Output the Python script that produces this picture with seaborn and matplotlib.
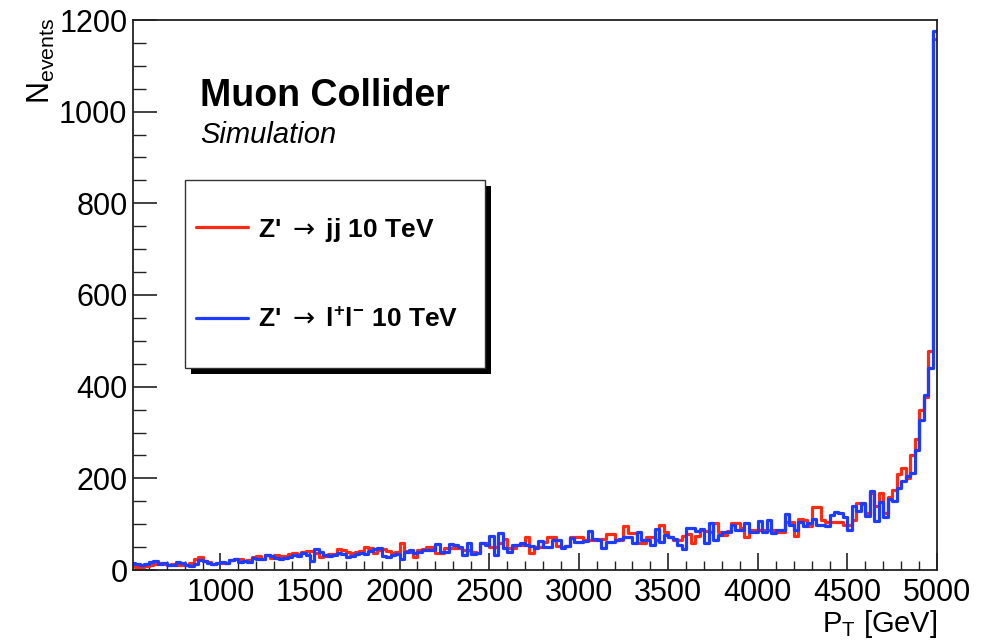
import numpy as np
import pandas as pd
import matplotlib
matplotlib.use("Agg")
import matplotlib.pyplot as plt
import seaborn as sns
from matplotlib.lines import Line2D
from matplotlib.patches import Rectangle
from matplotlib.ticker import MultipleLocator
from matplotlib.font_manager import FontProperties

# ---------------- data (25 GeV bins starting at 500 GeV) ----------------
bin_start = 500
bin_width = 25

jj_counts = [
    8, 7, 7, 9, 10, 14, 15, 13, 12, 14, 11, 12, 10, 16, 25, 29, 20, 18, 14, 15,
    15, 16, 22, 25, 24, 20, 22, 28, 30, 25, 32, 27, 33, 30, 31, 35, 38, 34, 40, 41,
    41, 38, 28, 30, 36, 34, 45, 43, 40, 38, 40, 42, 50, 48, 38, 44, 46, 42, 38, 40,
    60, 42, 40, 28, 44, 45, 50, 51, 38, 38, 48, 47, 47, 47, 44, 44, 40, 37, 60, 58,
    51, 51, 60, 67, 47, 47, 55, 54, 71, 38, 51, 51, 61, 71, 71, 52, 51, 52, 73, 73,
    73, 66, 66, 66, 67, 67, 79, 79, 66, 66, 95, 80, 80, 60, 58, 72, 72, 66, 98, 84,
    72, 66, 66, 75, 78, 58, 74, 88, 85, 84, 102, 84, 76, 85, 102, 102, 91, 71, 87, 87,
    87, 87, 87, 87, 84, 84, 105, 105, 74, 112, 110, 95, 138, 138, 109, 105, 105, 105, 105, 98,
    98, 110, 147, 145, 125, 167, 140, 167, 125, 160, 175, 210, 222, 200, 250, 285, 350, 378, 477, 1158,
]

ll_counts = [
    15, 13, 12, 14, 17, 20, 14, 16, 12, 11, 18, 16, 10, 9, 13, 22, 19, 15, 14, 16,
    18, 16, 22, 24, 17, 20, 18, 26, 24, 23, 33, 30, 26, 25, 26, 29, 32, 31, 38, 33,
    20, 45, 40, 32, 30, 33, 37, 36, 28, 30, 34, 38, 36, 42, 46, 47, 30, 29, 33, 36,
    25, 40, 44, 38, 40, 44, 44, 44, 57, 40, 40, 57, 55, 51, 33, 58, 35, 37, 60, 55,
    74, 33, 80, 47, 40, 55, 55, 58, 55, 52, 48, 64, 50, 50, 65, 66, 47, 52, 69, 62,
    62, 63, 85, 67, 66, 47, 62, 62, 65, 68, 72, 72, 58, 84, 66, 66, 55, 89, 62, 77,
    73, 68, 55, 45, 91, 91, 85, 89, 60, 102, 65, 76, 83, 83, 98, 87, 87, 103, 84, 84,
    106, 84, 109, 80, 87, 87, 122, 98, 88, 104, 95, 102, 111, 98, 98, 95, 120, 127, 124, 116,
    88, 140, 128, 146, 118, 172, 108, 148, 116, 155, 150, 178, 195, 205, 212, 262, 327, 382, 440, 1175,
]

series_names = [r"Z' $\mathsf{\rightarrow}$ jj 10 TeV",
                r"Z' $\mathsf{\rightarrow}$ l$^{\mathbf{+}}$l$^{\mathbf{-}}$ 10 TeV"]
series_colors = ["#ff2a12", "#1e3cff"]

x_ticks = [1000, 1500, 2000, 2500, 3000, 3500, 4000, 4500, 5000]
y_ticks = [0, 200, 400, 600, 800, 1000, 1200]

# ---------------- style ----------------
sns.set_theme(style="white")
plt.rcParams["font.family"] = ["Liberation Sans", "DejaVu Sans"]
plt.rcParams["mathtext.fontset"] = "custom"
plt.rcParams["mathtext.rm"] = "Liberation Sans"
plt.rcParams["mathtext.it"] = "Liberation Sans:italic"
plt.rcParams["mathtext.bf"] = "Liberation Sans:bold"
plt.rcParams["mathtext.sf"] = "DejaVu Sans"
plt.rcParams["text.color"] = "black"
plt.rcParams["axes.labelcolor"] = "black"

n_bins = len(jj_counts)
bin_end = bin_start + bin_width * n_bins
centers = bin_start + bin_width * (np.arange(n_bins) + 0.5)
df = pd.DataFrame({
    "pt": np.concatenate([centers, centers]),
    "n": np.array(jj_counts + ll_counts, dtype=float),
    "process": ["jj"] * n_bins + ["ll"] * n_bins,
})

W, H = 991, 642
fig = plt.figure(figsize=(W / 100, H / 100), dpi=100)
ax = fig.add_axes([133 / W, 1 - 570 / H, (937 - 133) / W, (570 - 20) / H])

for key, color in zip(["jj", "ll"], series_colors):
    sub = df[df["process"] == key].reset_index(drop=True)
    sns.histplot(data=sub, x="pt", weights="n", binwidth=bin_width,
                 binrange=(bin_start, bin_end), element="step", fill=False,
                 color=color, linewidth=2.3, ax=ax)

ax.set_xlim(512, 5000)
ax.set_ylim(0, 1200)
ax.set_xticks(x_ticks)
ax.set_yticks(y_ticks)
ax.xaxis.set_minor_locator(MultipleLocator(100))
ax.yaxis.set_minor_locator(MultipleLocator(50))
ax.tick_params(axis="both", which="both", direction="in", colors="#222222",
               labelcolor="black", labelsize=22, top=False, right=False,
               bottom=True, left=True)
ax.tick_params(axis="x", which="major", length=12, width=1.2, pad=6)
ax.tick_params(axis="x", which="minor", length=6.5, width=1.0)
ax.tick_params(axis="y", which="major", length=17, width=1.2, pad=4)
ax.tick_params(axis="y", which="minor", length=9, width=1.0)
for sp in ax.spines.values():
    sp.set_color("#222222")
    sp.set_linewidth(1.3)
ax.set_xlabel("")
ax.set_ylabel("")

# axis titles
fig.text(937 / W, 1 - 632 / H, r"P$_{\mathregular{T}}$ [GeV]", ha="right", va="baseline", size=21)
fig.text(41 / W, 1 - 18 / H, r"N$_{\mathregular{events}}$", rotation=90, ha="center", va="top", size=22)

# labels
fig.text(200 / W, 1 - 106 / H, "Muon Collider", weight="bold", size=27, va="baseline")
fig.text(200 / W, 1 - 143 / H, "Simulation", style="italic", size=21, va="baseline")

# legend box with shadow
fig.add_artist(Rectangle((191 / W, 1 - 374 / H), 300 / W, 188 / H, transform=fig.transFigure,
                         facecolor="black", edgecolor="none", zorder=2))
fig.add_artist(Rectangle((185 / W, 1 - 368 / H), 300 / W, 188 / H, transform=fig.transFigure,
                         facecolor="white", edgecolor="#333333", linewidth=1.0, zorder=3))
handles = [Line2D([0], [0], color=c, linewidth=2.3) for c in series_colors]
leg = fig.legend(handles, series_names, loc="center left", bbox_to_anchor=(196 / W, 1 - 274 / H),
                 frameon=False, borderpad=0, borderaxespad=0, handlelength=1.97,
                 handletextpad=0.38, labelspacing=2.45,
                 prop=FontProperties(family=["Liberation Sans", "DejaVu Sans"], weight="bold", size=19))
leg.set_zorder(5)

fig.savefig("out.png", dpi=100)
